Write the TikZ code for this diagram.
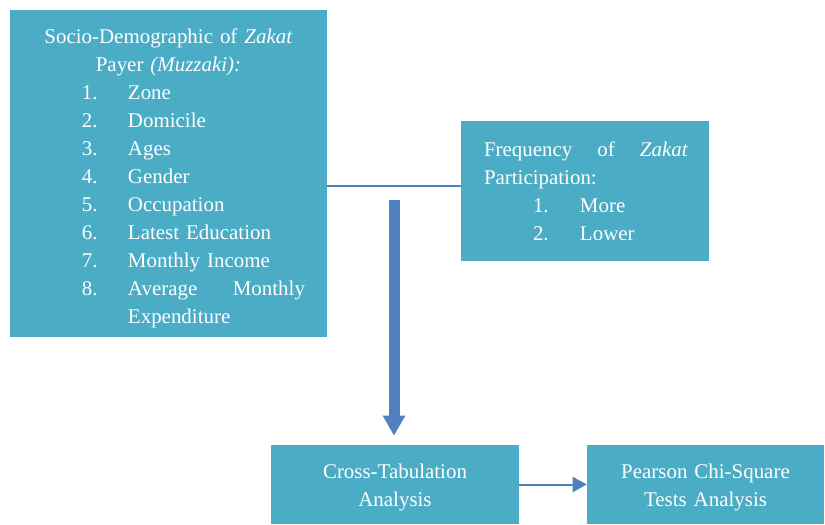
\documentclass[tikz,border=0pt]{standalone}
\usepackage{fontspec}
\setmainfont{Liberation Serif}
\usetikzlibrary{arrows.meta}
\definecolor{boxblue}{HTML}{4BACC6}
\definecolor{arrowblue}{HTML}{4F81BD}

\begin{document}
\begin{tikzpicture}[x=0.75pt,y=-0.75pt,
  box/.style={fill=boxblue,text=white,inner sep=0pt,font=\fontsize{15.7}{21}\selectfont},
  link/.style={draw=arrowblue,line width=1.5pt}]
  \useasboundingbox (0,0) rectangle (825,525);
  \node[box,minimum width=237.75pt,minimum height=245.25pt,text width=237.75pt,align=left] (socio) at (168.5,173.5) {%
    \makebox[237.75pt]{\rule{0pt}{18.4pt}Socio-Demographic of \textit{Zakat}}\\
    \makebox[237.75pt]{Payer \textit{(Muzzaki):}}\\
    \hspace*{54pt}\makebox[34.5pt][l]{1.}Zone\\
    \hspace*{54pt}\makebox[34.5pt][l]{2.}Domicile\\
    \hspace*{54pt}\makebox[34.5pt][l]{3.}Ages\\
    \hspace*{54pt}\makebox[34.5pt][l]{4.}Gender\\
    \hspace*{54pt}\makebox[34.5pt][l]{5.}Occupation\\
    \hspace*{54pt}\makebox[34.5pt][l]{6.}Latest Education\\
    \hspace*{54pt}\makebox[34.5pt][l]{7.}Monthly Income\\
    \hspace*{54pt}\makebox[34.5pt][l]{8.}\makebox[132.75pt][s]{Average\hfill Monthly}\\
    \hspace*{88.5pt}Expenditure};
  \node[box,minimum width=186pt,minimum height=105pt,text width=186pt,align=left] (freq) at (585,191) {%
    \hspace*{17.25pt}\makebox[153pt][s]{Frequency\hfill of\hfill \textit{Zakat}}\\
    \hspace*{17.25pt}Participation:\\
    \hspace*{54pt}\makebox[35.25pt][l]{1.}More\\
    \hspace*{54pt}\makebox[35.25pt][l]{2.}Lower};
  \node[box,minimum width=186pt,minimum height=59.25pt,text width=186pt,align=center] (cross) at (395,484.5) {\rule{0pt}{15.4pt}Cross-Tabulation\\Analysis};
  \node[box,minimum width=177.75pt,minimum height=59.25pt,text width=177.75pt,align=center] (pearson) at (705.5,484.5) {\rule{0pt}{15.4pt}Pearson Chi-Square\\Tests Analysis};
  \coordinate (drop) at (394,200);
  \draw[link] ([yshift=3.4pt]freq.west) -- ([yshift=3.4pt]freq.west -| socio.east);
  \draw[arrowblue,line width=8.25pt,shorten >=6.75pt,-{Triangle[width=15.75pt,length=15pt]}] (drop) -- (drop |- cross.north);
  \draw[link,-{Triangle[width=11.25pt,length=10.5pt]}] (cross.east) -- (pearson.west);
\end{tikzpicture}
\end{document}
